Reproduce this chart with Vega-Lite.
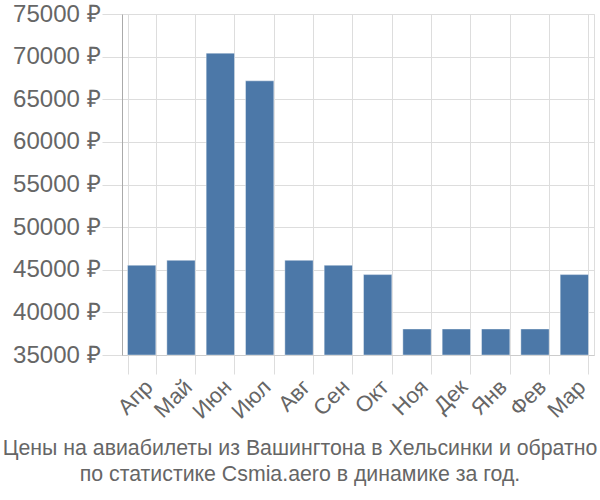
{
  "$schema": "https://vega.github.io/schema/vega-lite/v6.json",
  "width": 472,
  "height": 341,
  "autosize": {"type": "none"},
  "padding": {"left": 122, "top": 14, "right": 6, "bottom": 145},
  "background": "white",
  "title": {
    "text": ["Цены на авиабилеты из Вашингтона в Хельсинки и обратно", "по статистике Csmia.aero в динамике за год."],
    "orient": "bottom",
    "anchor": "middle",
    "frame": "group",
    "dx": -58,
    "offset": 16,
    "font": "Liberation Sans",
    "fontSize": 21.3,
    "fontWeight": "normal",
    "color": "#666666",
    "lineHeight": 26
  },
  "data": {
    "values": [
      {"month": "Апр", "price": 45530},
      {"month": "Май", "price": 46110},
      {"month": "Июн", "price": 70410},
      {"month": "Июл", "price": 67160},
      {"month": "Авг", "price": 46110},
      {"month": "Сен", "price": 45530},
      {"month": "Окт", "price": 44430},
      {"month": "Ноя", "price": 38050},
      {"month": "Дек", "price": 38050},
      {"month": "Янв", "price": 38050},
      {"month": "Фев", "price": 38050},
      {"month": "Мар", "price": 44430}
    ]
  },
  "mark": {"type": "bar", "color": "#4c78a8", "stroke": "#ffffff", "strokeOpacity": 0.4, "strokeWidth": 1},
  "encoding": {
    "x": {
      "field": "month",
      "type": "nominal",
      "sort": null,
      "scale": {"paddingInner": 0.28, "paddingOuter": 0.14},
      "axis": {
        "title": null,
        "labelAngle": -45,
        "labelFont": "Liberation Sans",
        "labelFontSize": 22,
        "labelColor": "#666666",
        "tickBand": "extent",
        "tickSize": 19,
        "tickColor": "#dddddd",
        "domainColor": "#cccccc",
        "grid": true,
        "gridColor": "#dddddd",
        "labelPadding": 2
      }
    },
    "y": {
      "field": "price",
      "type": "quantitative",
      "scale": {"domain": [35000, 75000], "zero": false, "nice": false},
      "axis": {
        "title": null,
        "values": [35000, 40000, 45000, 50000, 55000, 60000, 65000, 70000, 75000],
        "labelExpr": "datum.value + ' ₽'",
        "labelFont": "Liberation Sans",
        "labelFontSize": 24,
        "labelColor": "#666666",
        "tickSize": 20,
        "tickColor": "#dddddd",
        "domainColor": "#aaaaaa",
        "gridColor": "#dddddd",
        "labelPadding": 2
      }
    },
    "y2": {"datum": 35000}
  }
}
